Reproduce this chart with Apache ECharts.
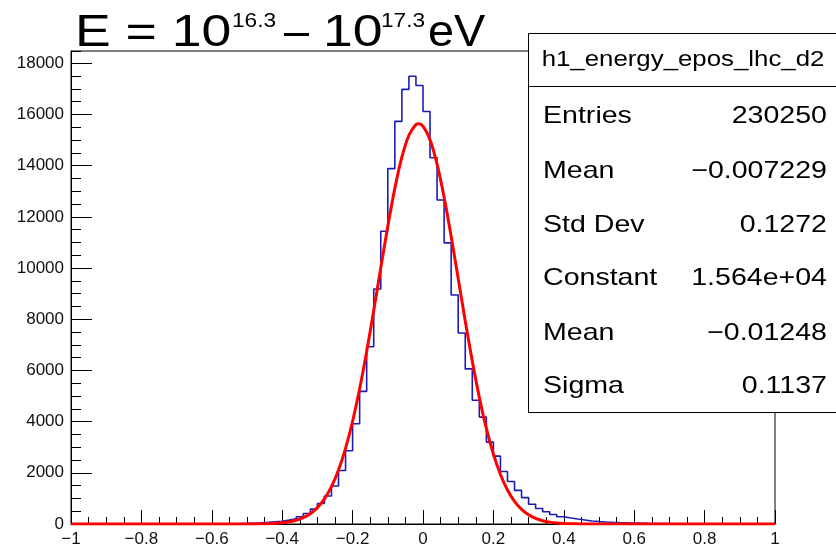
<!DOCTYPE html>
<html><head><meta charset="utf-8">
<script src="https://cdn.jsdelivr.net/npm/echarts@6/dist/echarts.min.js"></script>
<style>html,body{margin:0;padding:0;background:#fff}#c{width:836px;height:548px}</style>
</head><body><div id="c"></div>
<script>
// ---- data ----
const binLow = -1;
const binWidth = 0.02;
const binCounts = [
  0,0,0,0,0,0,0,0,0,0,
  0,0,0,0,0,1,2,2,3,4,
  5,8,11,16,23,32,45,62,85,110,
  150,200,284,413,580,800,1096,1482,2089,2862,
  3918,5183,6924,9180,11437,13886,15731,16980,17495,17135,
  16118,14312,12660,10985,8947,7465,6060,4835,4177,3200,
  2650,2050,1663,1315,1031,774,606,477,374,284,
  232,193,155,116,95,80,68,57,48,40,
  33,27,22,18,15,12,10,8,6,5,
  4,3,3,2,2,1,1,1,0,0
];
const fitX = [-1,-0.5,-0.48,-0.46,-0.44,-0.42,-0.4,-0.38,-0.36,-0.34,-0.32,-0.3,-0.28,-0.26,-0.24,-0.22,-0.2,-0.18,-0.16,-0.14,-0.12,-0.1,-0.08,-0.06,-0.04,-0.02,-0.01248,0,0.02,0.04,0.06,0.08,0.1,0.12,0.14,0.16,0.18,0.2,0.22,0.24,0.26,0.28,0.3,0.32,0.34,0.36,0.38,0.4,0.42,0.44,0.46,0.48,0.5,1];
const fitY = [0,1.6,3.3,6.8,13.3,25.4,47,84,146,247,403,639,982,1462,2112,2957,4014,5283,6741,8339,10001,11629,13112,14332,15188,15606,15640,15546,15015,14060,12764,11235,9588,7933,6364,4949,3732,2728,1934,1329,886,572,358,217,128,73,40,22,11,6,3,1.3,0.6,0];
const statsTitle = 'h1_energy_epos_lhc_d2';
const statsLabels = ['Entries','Mean','Std Dev','Constant','Mean','Sigma'];
const statsValues = ['230250','\u22120.007229','0.1272','1.564e+04','\u22120.01248','0.1137'];
const titleParts = ['E = 10','16.3','\u2013','10','17.3','eV'];

// ---- build ----
const histData = binCounts.map((c,i)=>[binLow+i*binWidth, c]);
histData.push([binLow+binCounts.length*binWidth, binCounts[binCounts.length-1]]);
const fitData = fitX.map((x,i)=>[x, fitY[i]]);

const FONT = '"Liberation Sans", Arial, Helvetica, sans-serif';
const SX = 1.19;
function txt(text, x, y, size, align, sx){
  return {type:'text', x:x, y:y, scaleX:sx||SX, z:100, silent:true,
    style:{text:text, fontFamily:FONT, fontSize:size, fill:'#000',
      align:align||'left', verticalAlign:'middle',
      textAlign:align||'left', textVerticalAlign:'middle'}};
}
const fmtX = v => { const r = Math.round(v*10)/10; return (r<0?'\u2212':'') + Math.abs(r); };
const fmtY = v => String(Math.round(v));

const graphics = [
  txt(titleParts[0], 75, 34, 45),
  txt(titleParts[1], 232, 21, 21, 'left', 1.08),
  txt(titleParts[2], 284, 34, 45, 'left', 1.0),
  txt(titleParts[3], 323, 34, 45),
  txt(titleParts[4], 381, 21, 21, 'left', 1.08),
  txt(titleParts[5], 428, 34, 45, 'left', 1.04),
  {type:'rect', z:90, silent:true, shape:{x:528.5, y:33.5, width:320, height:379},
   style:{fill:'#fff', stroke:'#000', lineWidth:1}},
  {type:'line', z:91, silent:true, shape:{x1:528.5, y1:86.5, x2:836, y2:86.5},
   style:{stroke:'#000', lineWidth:1}},
  txt(statsTitle, 683, 60, 21.7, 'center')
];
const rowY = [116.5,171.5,225,278.5,333,386.5];
statsLabels.forEach((l,i)=>{
  graphics.push(txt(l, 543, rowY[i], 24, 'left'));
  graphics.push(txt(statsValues[i], 827, rowY[i], 24, 'right'));
});

const chart = echarts.init(document.getElementById('c'), null, {renderer:'canvas'});
chart.setOption({
  animation:false,
  backgroundColor:'#fff',
  grid:{left:71, right:61, top:51, bottom:19, show:true, borderColor:'#000', borderWidth:1, backgroundColor:'transparent'},
  xAxis:{type:'value', min:-1, max:1, interval:0.2,
    axisLine:{onZero:false, lineStyle:{color:'#000', width:1}},
    axisTick:{inside:true, length:14, lineStyle:{color:'#000'}},
    minorTick:{show:true, splitNumber:4, length:7, lineStyle:{color:'#000'}},
    splitLine:{show:false},
    axisLabel:{formatter:fmtX, fontSize:17, color:'#111', margin:7, fontFamily:FONT}},
  yAxis:[
    {type:'value', min:0, max:18480, interval:2000, position:'left', offset:0,
     axisLine:{show:true, onZero:false, lineStyle:{color:'#000', width:1}},
     axisTick:{show:true, inside:true, length:21, lineStyle:{color:'#000'}},
     splitLine:{show:false},
     axisLabel:{formatter:fmtY, fontSize:17, color:'#111', margin:7, fontFamily:FONT, showMaxLabel:false}},
    {type:'value', min:0, max:18480, interval:500, position:'left', offset:0,
     axisLine:{show:false, onZero:false}, axisTick:{show:true, inside:true, length:10, lineStyle:{color:'#000'}},
     splitLine:{show:false}, axisLabel:{show:false}}
  ],
  series:[
    {type:'line', name:'hist', data:histData, step:'end', symbol:'none', yAxisIndex:0,
     lineStyle:{color:'#1c1cb4', width:1.6}, z:2},
    {type:'line', name:'fit', data:fitData, symbol:'none', smooth:0.3, yAxisIndex:0,
     lineStyle:{color:'#ff0000', width:3}, z:3}
  ],
  graphic:graphics
});
</script></body></html>
